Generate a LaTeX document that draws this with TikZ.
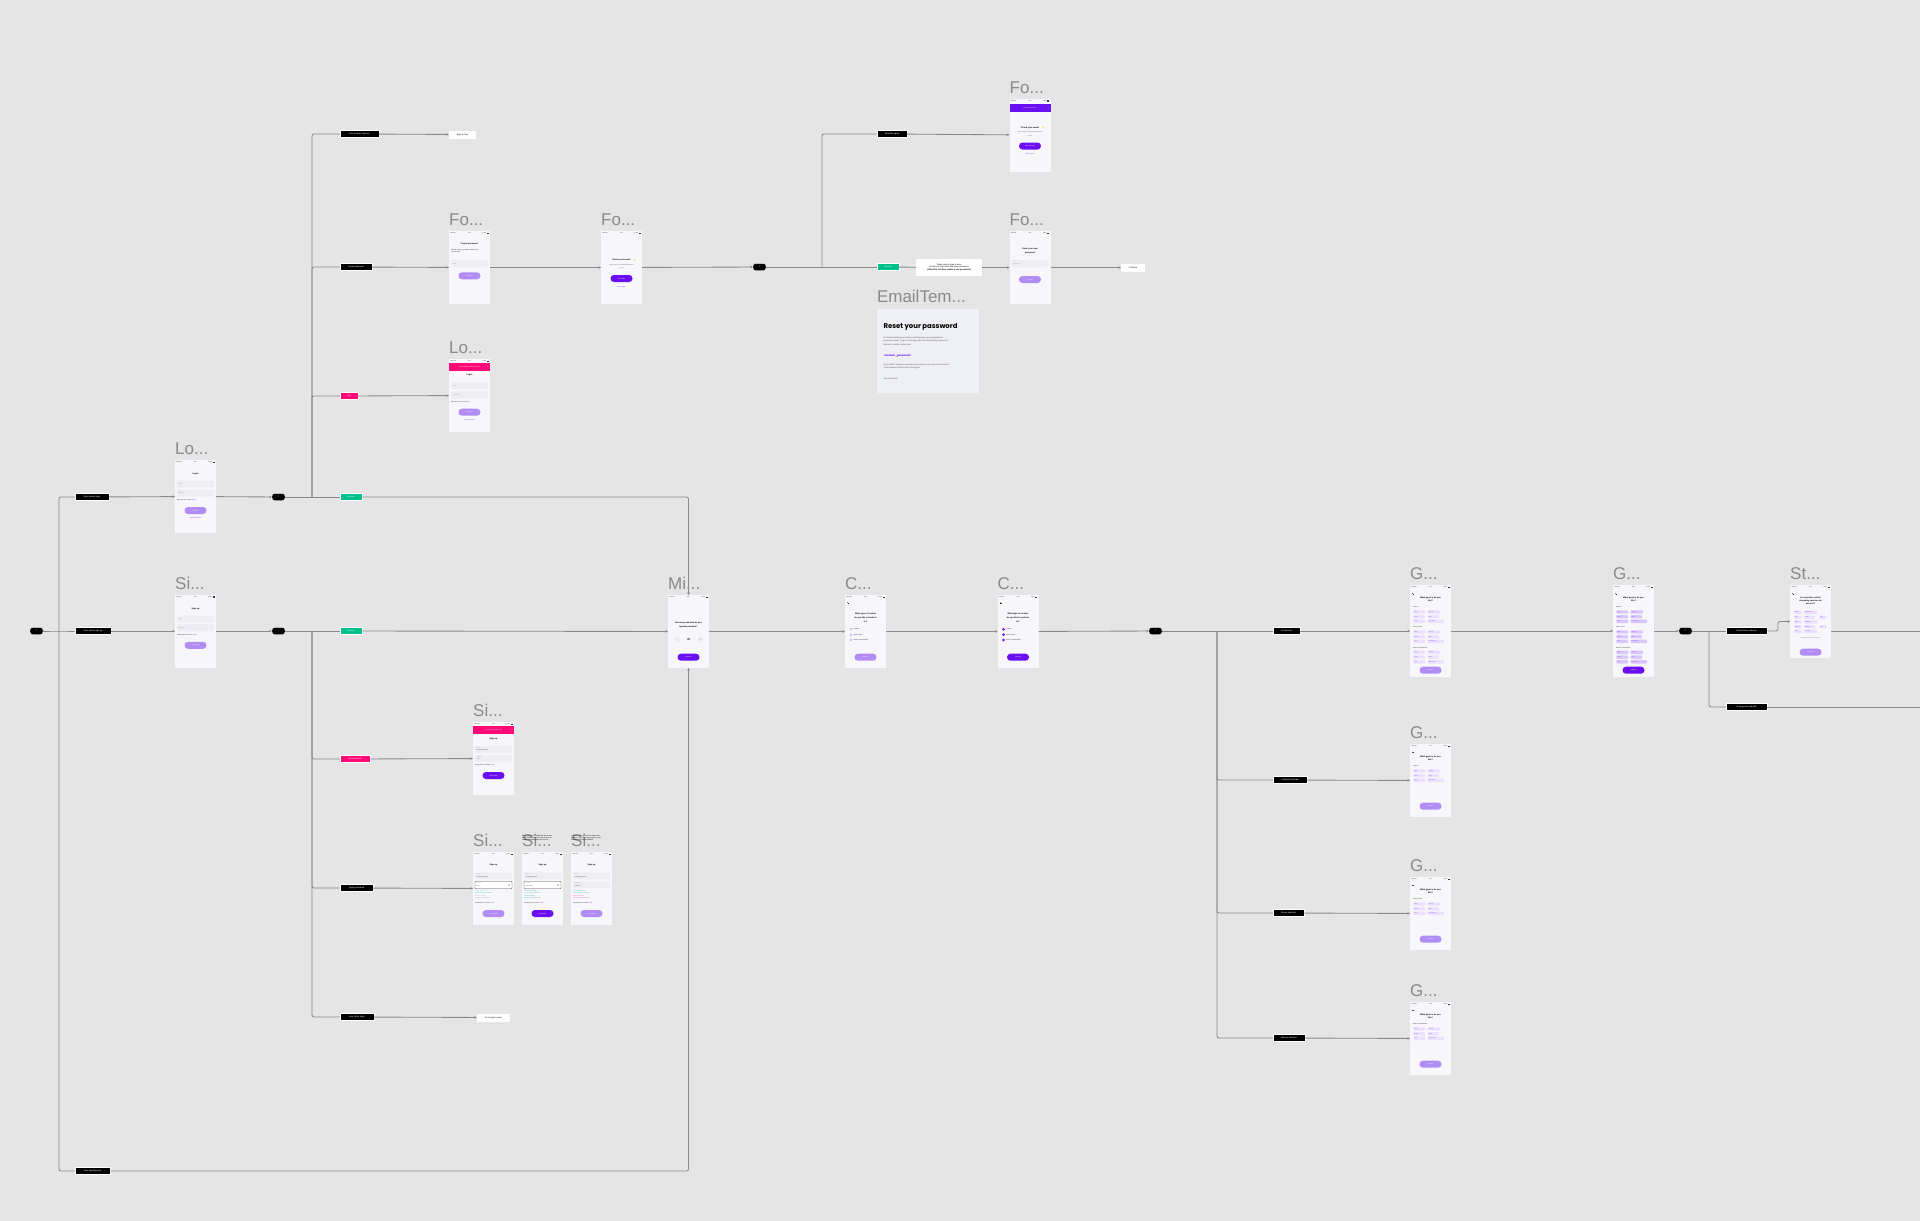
\documentclass[tikz,border=0pt]{standalone}
\usepackage{fontspec}
\setmainfont{Liberation Sans}
\newfontfamily\popfont{Poppins}
\usetikzlibrary{arrows.meta}
\newcommand\fsz[1]{\fontsize{#1}{#1}\selectfont}
\def\dd{...}
\definecolor{bgc}{HTML}{E5E5E5}
\definecolor{scr}{HTML}{F7F7FB}
\definecolor{fld}{HTML}{EDEDF3}
\definecolor{lpur}{HTML}{B28CF5}
\definecolor{dpur}{HTML}{6A0FF2}
\definecolor{pnk}{HTML}{FF0A78}
\definecolor{grn}{HTML}{00C08B}
\definecolor{ln}{HTML}{8A8A8A}
\definecolor{ttlc}{HTML}{8A8A8A}
\definecolor{chipl}{HTML}{EBE0FD}
\definecolor{chipd}{HTML}{D9C6FC}
\definecolor{mailc}{HTML}{EFEFF7}
\definecolor{okg}{HTML}{19B97A}
\definecolor{badr}{HTML}{F2386E}
\def\chipcol{chipl}
% ---- UI helpers (local coordinates, origin = top left of a screen) ----
\newcommand\sbar{%
 \node[font=\fsz{1.3}, inner sep=0, anchor=west] at (1.2,2.4) {Tele2 4G};
 \node[font=\fsz{1.3}, inner sep=0] at (20.5,2.4) {9:41};
 \node[font=\fsz{1.3}, inner sep=0, anchor=east] at (37.2,2.4) {100\%};
 \fill[black!80] (37.7,1.8) rectangle (39.8,3.0);}
\newcommand\hd[2]{\node[font=\bfseries\fsz{2.1}, inner sep=0] at (20.5,#1) {#2};}
\newcommand\fieldb[2]{\fill[fld, rounded corners=0.8pt] (2,#1) rectangle (39,{#1+7});
 \node[font=\fsz{1.4}, text=black!40, anchor=west, inner sep=0] at (3.5,{#1+3.5}) {#2};}
\newcommand\fieldlv[3]{\fill[fld, rounded corners=0.8pt] (2,#1) rectangle (39,{#1+7});
 \node[font=\fsz{1.1}, text=black!45, anchor=west, inner sep=0] at (3.5,{#1+2}) {#2};
 \node[font=\fsz{1.3}, text=black!80, anchor=west, inner sep=0] at (3.5,{#1+4.6}) {#3};}
\newcommand\fieldo[2]{\fill[white, draw=black!70, line width=0.35pt, rounded corners=0.8pt] (2,#1) rectangle (39,{#1+7.4});
 \node[font=\fsz{1.1}, text=black!45, anchor=west, inner sep=0] at (3.5,{#1+2}) {Password};
 \node[font=\fsz{1.3}, text=black!80, anchor=west, inner sep=0] at (3.5,{#1+4.8}) {#2};
 \draw[black!45, line width=0.25pt] (36,{#1+3.7}) circle (0.8);}
\newcommand\btn[3]{\fill[#2, rounded corners=3.4pt] (9.5,#1) rectangle (31.5,{#1+7});
 \node[font=\fsz{1.5}, text=white, inner sep=0] at (20.5,{#1+3.5}) {#3};}
\newcommand\lt[2]{\node[font=\fsz{1.35}, inner sep=0, anchor=west] at (2,#1) {#2};}
\newcommand\lc[3]{\node[font=\fsz{1.35}, inner sep=0, anchor=west, text=#2] at (2,#1) {#3};}
\newcommand\ctxt[3]{\node[font=\fsz{1.4}, inner sep=0, text=#2] at (20.5,#1) {#3};}
\newcommand\banner[4]{\fill[#3] (0,#1) rectangle (41,#2);
 \node[font=\fsz{1.4}, text=white, inner sep=0] at (20.5,{(#1+#2)/2}) {#4};
 \node[font=\fsz{1.8}, text=white, inner sep=0] at (38.8,{(#1+#2)/2}) {×};}
\newcommand\back[1]{\draw[black!80, line width=0.3pt, -{Stealth[length=0.8pt,width=1pt]}] (4,#1) -- (2.2,#1);}
\newcommand\chipp[4]{\fill[\chipcol, rounded corners=0.8pt] (#1,#3) rectangle (#2,{#3+3.4});
 \node[font=\fsz{1.15}, text=dpur, inner sep=0, anchor=west] at ({#1+0.8},{#3+1.7}) {#4};}
\newcommand\gsec[2]{%
 \node[font=\fsz{1.3}, inner sep=0, anchor=west] at (3,#1) {#2};
 \chipp{3.3}{15}{#1+3}{Action}
 \chipp{17.7}{30}{#1+3}{Comedy}
 \chipp{3.3}{15}{#1+7.7}{Drama}
 \chipp{17.7}{29}{#1+7.7}{Horror}
 \chipp{3.3}{15}{#1+12.4}{Sci-Fi}
 \chipp{17.7}{34}{#1+12.4}{Documentary}}
\newcommand\opt[3]{\draw[#2, fill=#3, line width=0.3pt] (6,#1) circle (1.2);}
\tikzset{
 screen/.style={fill=scr, inner sep=0, outer sep=0, minimum width=41pt, minimum height=73pt},
 tscreen/.style={screen, minimum height=92pt},
 lbl/.style={fill=black, text=white, font=\fsz{2.1}, inner sep=0, minimum height=7pt, draw=white, line width=0.3pt},
 pill/.style={lbl, rounded corners=2.5pt, minimum width=13pt},
 gl/.style={lbl, fill=grn},
 pl/.style={lbl, fill=pnk},
 wb/.style={fill=white, text=black, font=\fsz{2.1}, inner sep=0, minimum height=8pt},
 conn/.style={draw=ln, line width=0.85pt, rounded corners=2pt},
 arr/.style={conn, -{Stealth[length=2.6pt,width=2.6pt]}},
 ttl/.style={font=\fsz{17}, text=ttlc, anchor=base west, inner sep=0},
}
\begin{document}
\begin{tikzpicture}[x=1pt,y=-1pt]
\fill[bgc] (0,0) rectangle (1920,1221);
\useasboundingbox (0,0) rectangle (1920,1221);

% ================= nodes =================
\node[pill] (start) at (36.5,631) {?};
\coordinate (j0) at (59,631);
\node[lbl, minimum width=34pt] (lblLogin) at (92,497) {User selects login};
\node[lbl, minimum width=36pt] (lblSign) at (93,631) {User selects sign up};
\node[lbl, minimum width=35pt] (lblSkip) at (92.5,1171) {User skips/ignores};

\node[screen] (login) at (195.5,496.5) {};
\node[screen] (signup) at (195.5,631) {};
\node[pill] (pillL) at (278.5,497) {?};
\node[pill] (pillS) at (278.5,631) {?};
\coordinate (jL) at (312,497);
\coordinate (jS) at (312,631);

\node[lbl, minimum width=39pt] (lblSU) at (359.5,134) {User presses 'Sign up'};
\node[wb, minimum width=27pt] (boxSUF) at (462.5,134.5) {Sign up flow};
\node[lbl, minimum width=32pt] (lblFP) at (356,267) {Forgot password};
\node[screen] (fp1) at (469.5,267.5) {};
\node[screen] (fp2) at (621.5,267.5) {};
\node[pill] (pillF) at (759.5,267) {?};
\coordinate (jF) at (822,267);
\node[lbl, minimum width=30pt] (lblSA) at (892,134) {Send link again};
\node[screen] (fp3) at (1030,135) {};
\node[gl, minimum width=22pt] (gnF) at (888,267) {Success};
\node[wb, minimum width=66pt, minimum height=17pt, align=center, font=\fsz{2.1}] (boxTU) at (949,267.5)
 {Takes user to login screen\\for them to login with their temp password\\[1.6pt]\bfseries(After this, let them create a new password)};
\node[screen] (fp4) at (1030,267.5) {};
\node[wb, minimum width=24pt] (boxCont) at (1133,267.5) {Continue};
\node[fill=mailc, minimum width=102pt, minimum height=84pt, inner sep=0] (email) at (928,351) {};
\node[pl, minimum width=18pt] (lblFail) at (349,396) {Fail};
\node[screen] (lf) at (469.5,395.5) {};
\node[gl, minimum width=22pt] (gnL) at (351,497) {Success};
\node[gl, minimum width=22pt] (gnS) at (351,631) {Success};

\node[screen] (mi) at (688.5,631.5) {};
\node[pl, minimum width=30pt] (lblAE) at (355,759) {Account exists};
\node[screen] (si1) at (493.5,758.5) {};
\node[lbl, minimum width=33pt] (lblTP) at (356.5,888) {Typing password};
\node[screen] (si2) at (493.5,888.5) {};
\node[screen] (si3) at (542.5,888.5) {};
\node[screen] (si4) at (591.5,888.5) {};
\node[lbl, minimum width=34pt] (lblCL) at (357,1017) {User clicks 'login'};
\node[wb, minimum width=33pt] (boxGL) at (493.5,1017.5) {Go to login screen};

\node[screen] (c1) at (865.5,631.5) {};
\node[screen] (c2) at (1018,631.5) {};
\node[pill] (pillC) at (1155.5,631) {?};
\coordinate (jC) at (1217,631);
\node[lbl, minimum width=27pt] (lblAll) at (1286.5,631) {All selected};
\node[tscreen] (g1) at (1430.5,631) {};
\node[tscreen] (g2) at (1633.5,631) {};
\node[pill] (pillG) at (1685.5,631) {?};
\coordinate (jG) at (1709,631);
\node[lbl, minimum width=41pt] (lblSS) at (1746.5,631) {Show/Series selected};
\node[screen] (st) at (1810.5,621.5) {};
\coordinate (e1) at (1920,631);
\node[lbl, minimum width=41pt] (lblOG) at (1746.5,707) {Only genres selected};
\coordinate (e2) at (1920,707);
\node[lbl, minimum width=34pt] (lblFS) at (1290,780) {Featured selected};
\node[screen] (gF) at (1430.5,780.5) {};
\node[lbl, minimum width=31pt] (lblSh) at (1288.5,913) {Shows selected};
\node[screen] (gS) at (1430.5,913.5) {};
\node[lbl, minimum width=32pt] (lblMv) at (1289,1038) {Movies selected};
\node[screen] (gM) at (1430.5,1038.5) {};

% ================= titles =================
\foreach \n/\t in {login/Lo\dd,signup/Si\dd,fp1/Fo\dd,fp2/Fo\dd,fp3/Fo\dd,fp4/Fo\dd,lf/Lo\dd,mi/Mi\dd,c1/C\dd,c2/C\dd,g1/G\dd,g2/G\dd,st/St\dd,gF/G\dd,gS/G\dd,gM/G\dd,si1/Si\dd,si2/Si\dd,si3/Si\dd,si4/Si\dd}
  \node[ttl] (t-\n) at ([yshift=5.5pt]\n.north west) {\t};
\node[ttl] (t-email) at ([yshift=6.5pt]email.north west) {EmailTem\dd};

% annotations above the last two sign-up screens
\node[font=\fsz{1.7}, inner sep=0, anchor=north west, align=left] (ann3) at (522,835.5)
 {When typing their password, show them\\which requirements are met so far and\\enable the button when all are met};
\node[font=\fsz{1.7}, inner sep=0, anchor=north west, align=left] (ann4) at (571,835.5)
 {If requirements are not met when they\\continue, show the missing ones in red\\and keep the button disabled};

% ================= connectors =================
\draw[conn] (start) -- (j0) -- (lblSign);
\draw[arr] (lblSign) -- (signup);
\draw[conn] (j0) |- (lblLogin);
\draw[arr] (lblLogin) -- (login);
\draw[conn] (j0) |- (lblSkip);
\draw[arr] (lblSkip) -| (mi.south);

\draw[arr] (login) -- (pillL);
\draw[conn] (pillL) -- (gnL);
\draw[arr] (gnL) -| (mi.north);
\draw[conn] (jL) |- (lblSU);
\draw[arr] (lblSU) -- (boxSUF);
\draw[conn] (jL) |- (lblFP);
\draw[arr] (lblFP) -- (fp1);
\draw[conn] (jL) |- (lblFail);
\draw[arr] (lblFail) -- (lf);

\draw[arr] (signup) -- (pillS);
\draw[conn] (pillS) -- (gnS);
\draw[arr] (gnS) -- (mi);
\draw[conn] (jS) |- (lblAE);
\draw[arr] (lblAE) -- (si1);
\draw[conn] (jS) |- (lblTP);
\draw[arr] (lblTP) -- (si2);
\draw[conn] (jS) |- (lblCL);
\draw[arr] (lblCL) -- (boxGL);

\draw[arr] (fp1) -- (fp2);
\draw[arr] (fp2) -- (pillF);
\draw[conn] (pillF) -- (gnF);
\draw[conn] (jF) |- (lblSA);
\draw[arr] (lblSA) -- (fp3);
\draw[conn] (gnF) -- (boxTU);
\draw[arr] (boxTU) -- (fp4);
\draw[arr] (fp4) -- (boxCont);

\draw[arr] (mi) -- (c1);
\draw[arr] (c1) -- (c2);
\draw[arr] (c2) -- (pillC);
\draw[conn] (pillC) -- (lblAll);
\draw[arr] (lblAll) -- (g1);
\draw[arr] (g1) -- (g2);
\draw[arr] (g2) -- (pillG);
\draw[conn] (pillG) -- (lblSS);
\draw[arr] (lblSS.east) -- (1778,631) |- (st.west);
\draw[conn] ([yshift=-9.5pt]st.east) -- (e1);
\draw[conn] (jG) |- (lblOG);
\draw[conn] (lblOG) -- (e2);
\draw[conn] (jC) |- (lblFS);
\draw[arr] (lblFS) -- (gF);
\draw[conn] (jC) |- (lblSh);
\draw[arr] (lblSh) -- (gS);
\draw[conn] (jC) |- (lblMv);
\draw[arr] (lblMv) -- (gM);

% ================= screen contents =================
\begin{scope}[shift={(login.north west)}]
 \sbar \hd{13.7}{Login}
 \fieldb{20.5}{Email} \fieldb{29.5}{Password}
 \lt{40}{Don't have an account? \textcolor{dpur}{Sign up}}
 \btn{47}{lpur}{Continue}
 \ctxt{58.6}{dpur}{Forgot password?}
\end{scope}
\begin{scope}[shift={(signup.north west)}]
 \sbar \hd{14}{Sign up}
 \fieldb{21}{Email} \fieldb{29.7}{Password}
 \lt{41}{Already have an account? \textcolor{dpur}{Login}}
 \btn{47.3}{lpur}{Get started}
\end{scope}
\begin{scope}[shift={(lf.north west)}]
 \sbar \banner{4}{11.7}{pnk}{The email/password is not correct}
 \hd{16.3}{Login}
 \fieldb{23.3}{Email} \fieldb{32.3}{Password}
 \lt{42.7}{Don't have an account? \textcolor{dpur}{Sign up}}
 \btn{49.7}{lpur}{Continue}
 \ctxt{61}{dpur}{Forgot password?}
\end{scope}
\begin{scope}[shift={(fp1.north west)}]
 \sbar \hd{13.3}{Forgot password}
 \lt{19}{Enter the email you've signed up with to reset}
 \lt{21.6}{your password}
 \fieldb{29}{Email}
 \btn{41.3}{lpur}{Continue}
\end{scope}
\begin{scope}[shift={(fp2.north west)}]
 \sbar \hd{29}{Check your email!}
 \fill[yellow!80!orange] (33.6,29) circle (0.8);
 \ctxt{34}{black!70}{We've sent you a temporary password}
 \ctxt{37.3}{black!70}{to use}
 \btn{44}{dpur}{Go to Mail}
 \ctxt{55.7}{dpur}{Send it again}
\end{scope}
\begin{scope}[shift={(fp3.north west)}]
 \sbar \banner{5.5}{13.5}{dpur}{Email has been sent}
 \hd{29}{Check your email!}
 \fill[yellow!80!orange] (33.6,29) circle (0.8);
 \ctxt{34}{black!70}{We've sent you a temporary password}
 \ctxt{37.3}{black!70}{to use}
 \btn{44}{dpur}{Open mail app}
 \ctxt{55.7}{dpur}{Send it again}
\end{scope}
\begin{scope}[shift={(fp4.north west)}]
 \sbar \hd{18.3}{Enter your new} \hd{22}{password}
 \fieldb{29}{Password}
 \btn{45}{lpur}{Continue}
\end{scope}
\begin{scope}[shift={(email.north west)}]
 \node[font=\popfont\bfseries\fsz{6.9}, inner sep=0, anchor=west] at (6.5,18.3) {Reset your password};
 \node[font=\popfont\fsz{2.05}, text=black!65, inner sep=0, anchor=north west, align=left] at (6.5,27.5)
  {Hi! We're sending you this email because you requested a\\[0.5pt]password reset. Login to the app with the temporary password\\[0.5pt]below to create a new one.};
 \node[font=\popfont\bfseries\fsz{2.5}, text=dpur, inner sep=0, anchor=west] at (6.5,47) {<random\_password>};
 \node[font=\popfont\fsz{2.05}, text=black!65, inner sep=0, anchor=north west, align=left] at (6.5,54.5)
  {If you didn't request a password reset, you can ignore this email.\\[0.5pt]Your password will not be changed.};
 \node[font=\popfont\fsz{2.05}, text=black!65, inner sep=0, anchor=west] at (6.5,70.7) {The app team};
\end{scope}
\begin{scope}[shift={(mi.north west)}]
 \sbar \hd{28.3}{How many minutes do you} \hd{31.7}{typically workout?}
 \fill[fld] (9.3,44.3) circle (3); \fill[fld] (32.3,44.3) circle (3);
 \node[font=\fsz{2.4}, inner sep=0] at (9.3,44.3) {-};
 \node[font=\fsz{2.4}, inner sep=0] at (32.3,44.3) {+};
 \node[font=\bfseries\fsz{2.6}, inner sep=0] at (20.7,44.3) {20};
 \btn{58.7}{dpur}{Continue}
\end{scope}
\begin{scope}[shift={(c1.north west)}]
 \sbar \back{7.7}
 \hd{19.3}{What type of content} \hd{22.7}{do you like to workout} \hd{26.3}{to?}
 \opt{34.3}{lpur}{white}
 \node[font=\fsz{1.35}, inner sep=0, anchor=west] at (8.5,34.3) {Featured};
 \opt{39.7}{lpur}{white}
 \node[font=\fsz{1.35}, inner sep=0, anchor=west] at (8.5,39.7) {Shows / Series};
 \opt{45}{lpur}{white}
 \node[font=\fsz{1.35}, inner sep=0, anchor=west] at (8.5,45) {Movies / Documentaries};
 \btn{58.7}{lpur}{Continue}
\end{scope}
\begin{scope}[shift={(c2.north west)}]
 \sbar \back{7.7}
 \hd{19.3}{What type of content} \hd{22.7}{do you like to workout} \hd{26.3}{to?}
 \opt{34.3}{dpur}{dpur}
 \node[font=\fsz{1.35}, inner sep=0, anchor=west] at (8.5,34.3) {Featured};
 \opt{39.7}{dpur}{dpur}
 \node[font=\fsz{1.35}, inner sep=0, anchor=west] at (8.5,39.7) {Shows / Series};
 \opt{45}{dpur}{dpur}
 \node[font=\fsz{1.35}, inner sep=0, anchor=west] at (8.5,45) {Movies / Documentaries};
 \btn{58.7}{dpur}{Continue}
\end{scope}
\begin{scope}[shift={(g1.north west)}]
 \sbar \back{8.7}
 \hd{12.7}{What genre's do you} \hd{16}{like?}
 \gsec{22.3}{Featured}
 \gsec{42.3}{Shows / Series}
 \gsec{62.7}{Movies / Documentaries}
 \btn{81.7}{lpur}{Continue}
\end{scope}
\begin{scope}[shift={(g2.north west)}]
 \def\chipcol{chipd}
 \sbar \back{8.7}
 \hd{12.7}{What genre's do you} \hd{16}{like?}
 \gsec{22.3}{Featured}
 \gsec{42.3}{Shows / Series}
 \gsec{62.7}{Movies / Documentaries}
 \btn{81.7}{dpur}{Continue}
\end{scope}
\begin{scope}[shift={(st.north west)}]
 \sbar \back{8.7}
 \hd{12.7}{Last question, which} \hd{16}{streaming services do} \hd{19.3}{you use?}
 \chipp{4}{11.5}{25.6}{Netflix} \chipp{14}{27.3}{25.6}{Amazon Prime}
 \chipp{4}{11.5}{30.6}{Hulu} \chipp{14}{25}{30.6}{Disney+} \chipp{29.3}{36.7}{30.6}{HBO}
 \chipp{4}{11.5}{35.3}{Apple} \chipp{14}{27.3}{35.3}{Paramount+}
 \chipp{4}{11.5}{40}{Peacock} \chipp{14}{25}{40}{Showtime} \chipp{29.3}{36.7}{40}{Starz}
 \chipp{4}{11.5}{44.6}{Other} \chipp{14}{27.3}{44.6}{Crunchyroll}
 \ctxt{53.3}{black!60}{You're all set up and ready to go}
 \btn{63.7}{lpur}{Continue}
\end{scope}
\begin{scope}[shift={(gF.north west)}]
 \sbar \back{8.3}
 \hd{12.7}{What genre's do you} \hd{16}{like?}
 \gsec{22.3}{Featured}
 \btn{58.7}{lpur}{Continue}
\end{scope}
\begin{scope}[shift={(gS.north west)}]
 \sbar \back{8.3}
 \hd{12.7}{What genre's do you} \hd{16}{like?}
 \gsec{22.3}{Shows / Series}
 \btn{58.7}{lpur}{Continue}
\end{scope}
\begin{scope}[shift={(gM.north west)}]
 \sbar \back{8.3}
 \hd{12.7}{What genre's do you} \hd{16}{like?}
 \gsec{22.3}{Movies / Documentaries}
 \btn{58.7}{lpur}{Continue}
\end{scope}
\begin{scope}[shift={(si1.north west)}]
 \sbar \banner{4.3}{12}{pnk}{This email is already in use}
 \hd{17}{Sign up}
 \fieldlv{24}{Email}{example@mail.com}
 \fieldlv{33}{Password}{••••••••}
 \lt{43}{Already have an account? \textcolor{dpur}{Login}}
 \btn{50}{dpur}{Get started}
\end{scope}
\begin{scope}[shift={(si2.north west)}]
 \sbar \hd{13}{Sign up}
 \fieldlv{20.3}{Email}{example@mail.com}
 \fieldo{29.3}{Pass}
 \lc{39}{okg!70}{At least 8 characters}
 \lc{41.3}{okg}{At least 1 upper case letter}
 \lc{43.7}{black!35}{At least 1 number}
 \lc{46}{black!35}{At least 1 special character}
 \lt{50.7}{Already have an account? \textcolor{dpur}{Login}}
 \btn{58}{lpur}{Get started}
\end{scope}
\begin{scope}[shift={(si3.north west)}]
 \sbar \hd{13}{Sign up}
 \fieldlv{20.3}{Email}{example@mail.com}
 \fieldo{29.3}{Password1!}
 \lc{39}{okg}{At least 8 characters}
 \lc{41.3}{okg}{At least 1 upper case letter}
 \lc{43.7}{okg}{At least 1 number}
 \lc{46}{okg}{At least 1 special character}
 \lt{50.7}{Already have an account? \textcolor{dpur}{Login}}
 \btn{58}{dpur}{Get started}
\end{scope}
\begin{scope}[shift={(si4.north west)}]
 \sbar \hd{13}{Sign up}
 \fieldlv{20.3}{Email}{example@mail.com}
 \fieldlv{29.3}{Password}{Password}
 \lc{39}{okg}{At least 8 characters}
 \lc{41.3}{okg}{At least 1 upper case letter}
 \lc{43.7}{badr}{At least 1 number}
 \lc{46}{badr}{At least 1 special character}
 \lt{50.7}{Already have an account? \textcolor{dpur}{Login}}
 \btn{58}{lpur}{Get started}
\end{scope}
\end{tikzpicture}
\end{document}
